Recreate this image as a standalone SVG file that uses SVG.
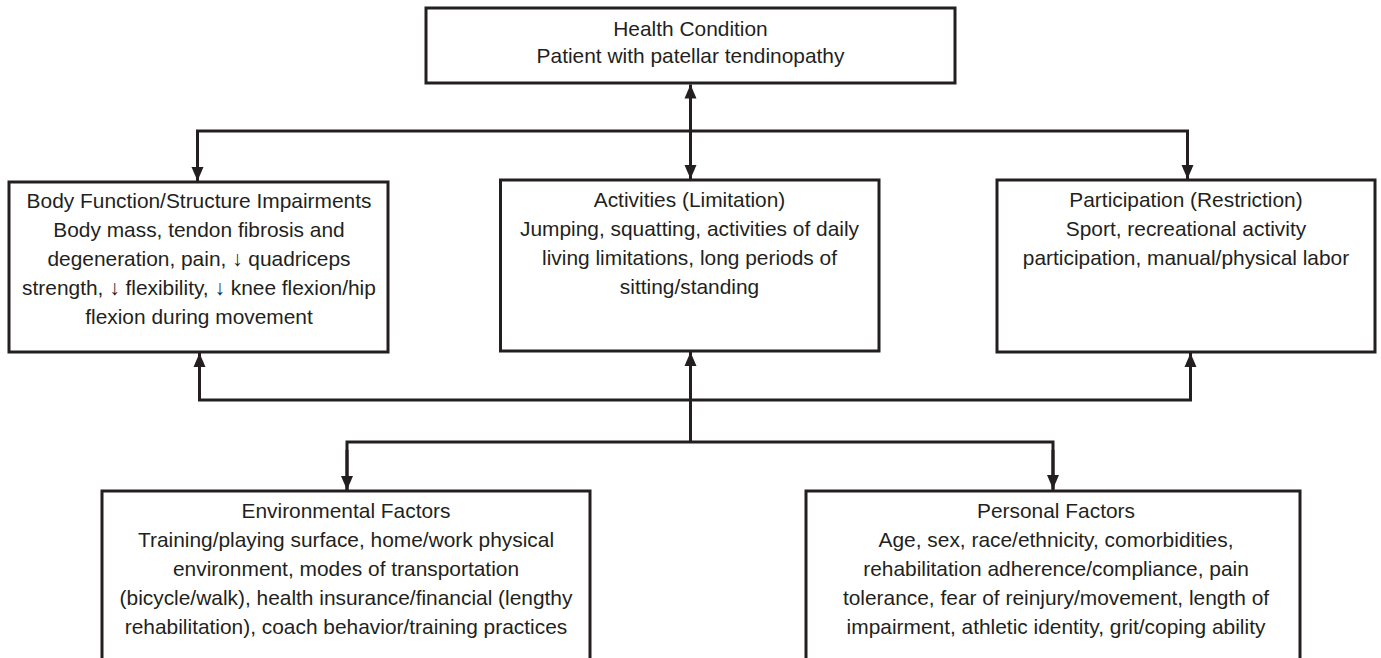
<svg xmlns="http://www.w3.org/2000/svg" width="1381" height="658" viewBox="0 0 1381 658">
<defs>
<style>
.box{fill:#fff;stroke:#231f20;stroke-width:3}
.t{font-family:"Liberation Sans",Arial,sans-serif;font-size:20.9px;fill:#231f20;text-anchor:middle}
.c{fill:none;stroke:#231f20;stroke-width:3}
</style>
<marker id="ah" markerUnits="userSpaceOnUse" markerWidth="14" markerHeight="14" viewBox="0 0 14 12" refX="14" refY="6" orient="auto">
<path d="M0,0 L14,6 L0,12 Z" fill="#231f20"/>
</marker>
</defs>
<rect width="1381" height="658" fill="#fff"/>
<g id="connectors">
<line class="c" x1="690.5" y1="131" x2="690.5" y2="84.5" marker-end="url(#ah)"/>
<line class="c" x1="690.5" y1="131" x2="690.5" y2="179" marker-end="url(#ah)"/>
<polyline class="c" points="197.5,181 197.5,131 1187.5,131 1187.5,181" />
<line class="c" x1="197.5" y1="140" x2="197.5" y2="181" marker-end="url(#ah)"/>
<line class="c" x1="1187.5" y1="140" x2="1187.5" y2="179" marker-end="url(#ah)"/>
<polyline class="c" points="199.5,353 199.5,400 1190.5,400 1190.5,353"/>
<line class="c" x1="199.5" y1="390" x2="199.5" y2="353" marker-end="url(#ah)"/>
<line class="c" x1="1190.5" y1="390" x2="1190.5" y2="353" marker-end="url(#ah)"/>
<line class="c" x1="690.5" y1="442" x2="690.5" y2="352" marker-end="url(#ah)"/>
<polyline class="c" points="347,490 347,442 1053,442 1053,490"/>
<line class="c" x1="347" y1="450" x2="347" y2="490" marker-end="url(#ah)"/>
<line class="c" x1="1053" y1="450" x2="1053" y2="489" marker-end="url(#ah)"/>
</g>
<g id="health">
<rect class="box" x="426" y="8" width="529" height="75"/>
<text class="t" x="690.5" y="36">Health Condition</text>
<text class="t" x="690.5" y="63">Patient with patellar tendinopathy</text>
</g>
<g id="body">
<rect class="box" x="9" y="182" width="379" height="170"/>
<text class="t" x="199" y="208">Body Function/Structure Impairments</text>
<text class="t" x="199" y="237">Body mass, tendon fibrosis and</text>
<text class="t" x="199" y="266">degeneration, pain, ↓ quadriceps</text>
<text class="t" x="199" y="295">strength, ↓ flexibility, ↓ knee flexion/hip</text>
<text class="t" x="199" y="324">flexion during movement</text>
</g>
<g id="activities">
<rect class="box" x="500.5" y="180" width="378.5" height="171"/>
<text class="t" x="689.5" y="207">Activities (Limitation)</text>
<text class="t" x="689.5" y="236">Jumping, squatting, activities of daily</text>
<text class="t" x="689.5" y="265">living limitations, long periods of</text>
<text class="t" x="689.5" y="294">sitting/standing</text>
</g>
<g id="participation">
<rect class="box" x="997" y="180" width="378" height="172"/>
<text class="t" x="1186" y="207">Participation (Restriction)</text>
<text class="t" x="1186" y="236">Sport, recreational activity</text>
<text class="t" x="1186" y="265">participation, manual/physical labor</text>
</g>
<g id="environmental">
<rect class="box" x="102" y="491" width="488" height="180"/>
<text class="t" x="346" y="518">Environmental Factors</text>
<text class="t" x="346" y="547">Training/playing surface, home/work physical</text>
<text class="t" x="346" y="576">environment, modes of transportation</text>
<text class="t" x="346" y="605">(bicycle/walk), health insurance/financial (lengthy</text>
<text class="t" x="346" y="634">rehabilitation), coach behavior/training practices</text>
</g>
<g id="personal">
<rect class="box" x="806" y="491" width="494" height="180"/>
<text class="t" x="1056" y="518">Personal Factors</text>
<text class="t" x="1056" y="547">Age, sex, race/ethnicity, comorbidities,</text>
<text class="t" x="1056" y="576">rehabilitation adherence/compliance, pain</text>
<text class="t" x="1056" y="605">tolerance, fear of reinjury/movement, length of</text>
<text class="t" x="1056" y="634">impairment, athletic identity, grit/coping ability</text>
</g>
</svg>
